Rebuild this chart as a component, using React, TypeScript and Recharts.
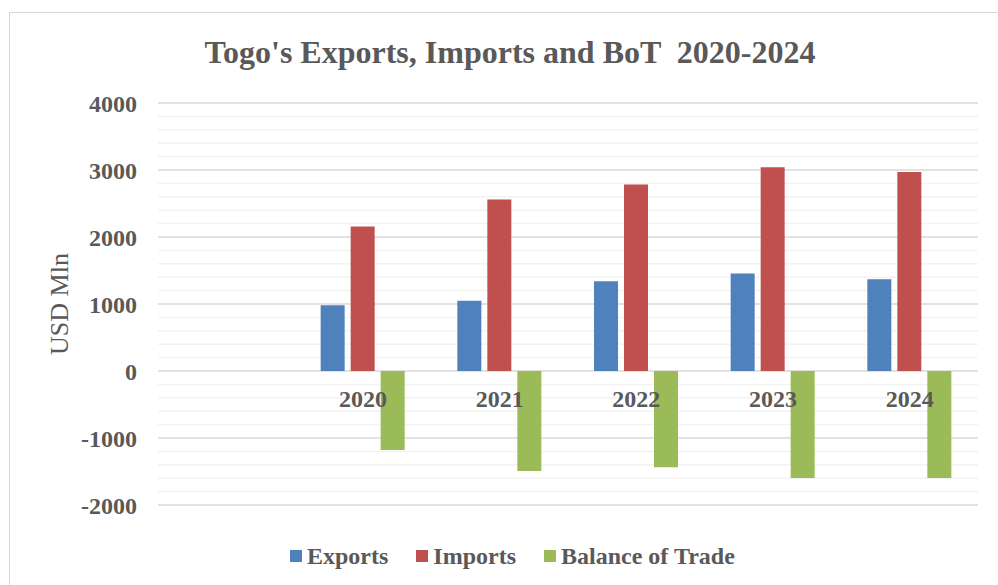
import React from 'react';
import { BarChart, Bar, XAxis, YAxis, CartesianGrid, Legend, Label } from 'recharts';

const YEARS = ['', '2020', '2021', '2022', '2023', '2024'];
const EXPORTS = [null, 980, 1050, 1340, 1455, 1370];
const IMPORTS = [null, 2155, 2558, 2782, 3040, 2972];
const BALANCE = [null, -1179, -1493, -1438, -1597, -1597];

const Y_TICKS = [-2000, -1000, 0, 1000, 2000, 3000, 4000];
const MINOR_TICKS = [
  -1800, -1600, -1400, -1200, -800, -600, -400, -200,
  200, 400, 600, 800, 1200, 1400, 1600, 1800,
  2200, 2400, 2600, 2800, 3200, 3400, 3600, 3800,
];

const SERIES = [
  { key: 'exports', name: 'Exports', color: '#4F81BD' },
  { key: 'imports', name: 'Imports', color: '#C0504D' },
  { key: 'balance', name: 'Balance of Trade', color: '#9BBB59' },
];

const FONT = '"Liberation Serif", "Times New Roman", serif';
const TEXT = '#595959';

// plot box, used to put the year labels on the zero line like Excel does
const PLOT_TOP = 103;
const PLOT_BOTTOM = 505;
const Y_MIN = -2000;
const Y_MAX = 4000;
const ZERO_Y = PLOT_TOP + ((PLOT_BOTTOM - PLOT_TOP) * Y_MAX) / (Y_MAX - Y_MIN);

const data = YEARS.map((year, i) => ({
  year,
  exports: EXPORTS[i],
  imports: IMPORTS[i],
  balance: BALANCE[i],
}));

const minorLines = (p: any) => {
  const scale = p?.yAxis?.scale;
  if (typeof scale === 'function') return MINOR_TICKS.map(v => scale(v));
  const top = p?.offset?.top ?? PLOT_TOP;
  const h = p?.offset?.height ?? PLOT_BOTTOM - PLOT_TOP;
  return MINOR_TICKS.map(v => top + (h * (Y_MAX - v)) / (Y_MAX - Y_MIN));
};

const YearTick = (props: any) => {
  const { x, payload } = props;
  return (
    <text x={x} y={ZERO_Y + 28} dy="0.35em" textAnchor="middle" fill={TEXT}
      fontFamily={FONT} fontSize={24} fontWeight="bold">
      {payload.value}
    </text>
  );
};

const LegendBox = () => (
  <div style={{ display: 'flex', alignItems: 'center', fontFamily: FONT, lineHeight: '24px', height: 24 }}>
    {SERIES.map((s, i) => (
      <div key={s.key} style={{ display: 'flex', alignItems: 'center', marginRight: i < SERIES.length - 1 ? 28 : 0 }}>
        <span style={{ width: 12, height: 12, background: s.color, marginRight: 5, display: 'inline-block' }} />
        <span style={{ fontSize: 24, fontWeight: 'bold', color: TEXT, whiteSpace: 'nowrap' }}>{s.name}</span>
      </div>
    ))}
  </div>
);

export default function App() {
  return (
    <div style={{ position: 'fixed', left: 0, top: 0, width: 998, height: 585, overflow: 'hidden', background: '#fff' }}>
      <div style={{
        position: 'absolute', left: 9, top: 12, width: 1000, height: 600,
        borderTop: '1.5px solid #d9d9d9', borderLeft: '1.5px solid #d9d9d9',
      }} />
      <div style={{
        position: 'absolute', left: 10, top: 36, width: 1000, textAlign: 'center',
        fontFamily: FONT, fontSize: 32, fontWeight: 'bold', color: TEXT,
        lineHeight: '32px', whiteSpace: 'pre',
      }}>
        {"Togo's Exports, Imports and BoT  2020-2024"}
      </div>
      <BarChart
        width={998}
        height={585}
        data={data}
        margin={{ top: PLOT_TOP, right: 20, left: 0, bottom: 26 }}
        barSize={24}
        barGap={6}
      >
        {/* minor gridlines every 200 */}
        <CartesianGrid vertical={false} stroke="#f2f2f2" strokeWidth={1.5} horizontalCoordinatesGenerator={minorLines} />
        <CartesianGrid vertical={false} stroke="#d9d9d9" strokeWidth={1.5} />
        <XAxis dataKey="year" axisLine={false} tickLine={false} height={30} tick={<YearTick />} interval={0} />
        <YAxis
          width={158}
          domain={[Y_MIN, Y_MAX]}
          ticks={Y_TICKS}
          interval={0}
          axisLine={false}
          tickLine={false}
          tickMargin={15}
          tick={{ fill: TEXT, fontFamily: FONT, fontSize: 24, fontWeight: 'bold' }}
        >
          <Label
            content={(p: any) => {
              const vb = p.viewBox || {};
              const cy = (vb.y ?? PLOT_TOP) + (vb.height ?? 402) / 2;
              return (
                <text x={59} y={cy} transform={`rotate(-90 59 ${cy})`} textAnchor="middle" dy="0.35em"
                  fill={TEXT} fontFamily={FONT} fontSize={26}>
                  USD Mln
                </text>
              );
            }}
          />
        </YAxis>
        <Legend content={<LegendBox />} wrapperStyle={{ position: 'absolute', left: 290, top: 544, width: 'auto' }} />
        {SERIES.map(s => (
          <Bar key={s.key} dataKey={s.key} name={s.name} fill={s.color} isAnimationActive={false} />
        ))}
      </BarChart>
    </div>
  );
}
